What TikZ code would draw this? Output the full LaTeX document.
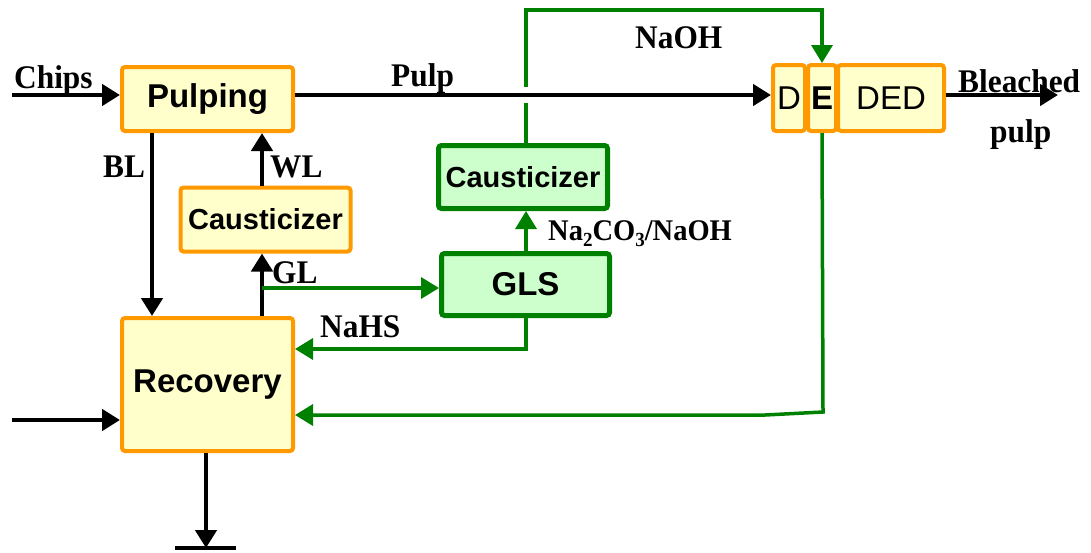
\documentclass[tikz,border=0pt]{standalone}
\usepackage{fontspec}
\setmainfont{Liberation Serif}
\newfontfamily\labf[FakeStretch=0.95]{Liberation Serif}
\newfontfamily\boxf{Liberation Sans}
\usetikzlibrary{arrows.meta}
\definecolor{orng}{HTML}{FF9900}
\definecolor{oyel}{HTML}{FFFFCC}
\definecolor{grn}{HTML}{008000}
\definecolor{gfill}{HTML}{CCFFCC}
\tikzset{
  obox/.style={draw=orng, fill=oyel, line width=4pt, rounded corners=3pt, inner sep=0pt,
    font=\boxf\bfseries\fontsize{33}{36}\selectfont},
  gbox/.style={draw=grn, fill=gfill, line width=5pt, rounded corners=3pt, inner sep=0pt,
    font=\boxf\bfseries\fontsize{33}{36}\selectfont},
  cfont/.style={font=\boxf\bfseries\fontsize{29}{32}\selectfont},
  blk/.style={draw=black, line width=4.5pt},
  grl/.style={draw=grn, line width=3.5pt},
  arr/.style={-{Triangle[length=18pt,width=21pt]}},
  lbl/.style={inner sep=0pt, font=\labf\bfseries\fontsize{33}{36}\selectfont},
}
\begin{document}
\begin{tikzpicture}[x=1pt,y=-1pt]
\useasboundingbox (0,0) rectangle (1091,552);

% boxes
\node[obox, minimum width=171pt, minimum height=64pt] (pulping) at (207.5,99) {Pulping};
\node[obox, minimum width=170pt, minimum height=64pt, cfont] (ocaus) at (265.5,219.5) {Causticizer};
\node[obox, minimum width=171pt, minimum height=133pt] (recovery) at (207.5,384.5) {Recovery};
\node[gbox, minimum width=169pt, minimum height=63pt, cfont] (gcaus) at (523,177) {Causticizer};
\node[gbox, minimum width=168pt, minimum height=62pt] (gls) at (525.5,284.5) {GLS};
\node[obox, minimum width=32pt, minimum height=66pt, font=\boxf\fontsize{33}{36}\selectfont] (d) at (789,98) {D};
\node[obox, minimum width=28pt, minimum height=66pt] (e) at (822,98) {E};
\node[obox, minimum width=106pt, minimum height=66pt, font=\boxf\fontsize{33}{36}\selectfont] (ded) at (891,98) {DED};

% coordinates
\coordinate (chipsin) at (12,95);
\coordinate (leftin) at (12,420);
\coordinate (outend) at (1058,95);
\coordinate (blx) at (152,0);
\coordinate (wlx) at (262,0);
\coordinate (glj) at (262,288);
\coordinate (gx) at (526,0);
\coordinate (ntop) at (526,10);
\coordinate (gapb) at (526,103);
\coordinate (gapt) at (526,87);
\coordinate (nahs) at (526,349);
\coordinate (k1) at (823,412);
\coordinate (k2) at (765,415);
\coordinate (botx) at (206,0);
\coordinate (botend) at (206,548);
\coordinate (barl) at (175,548);
\coordinate (barr) at (236,548);

% black flows
\draw[blk,arr] (chipsin) -- (chipsin -| pulping.west);
\draw[blk,arr] (pulping.east |- chipsin) -- (d.west |- chipsin);
\draw[blk,arr] (ded.east |- outend) -- (outend);
\draw[blk,arr] (pulping.south -| blx) -- (recovery.north -| blx);
\draw[blk,arr] (ocaus.north -| wlx) -- (pulping.south -| wlx);
\draw[blk,arr] (recovery.north -| wlx) -- (ocaus.south -| wlx);
\draw[blk,arr] (leftin) -- (leftin -| recovery.west);
\draw[blk,arr] (recovery.south -| botx) -- (botend);
\draw[blk] (barl) -- (barr);

% green flows
\draw[grl,arr] (glj) -- (glj -| gls.west);
\draw[grl,arr] (gls.north -| gx) -- (gcaus.south -| gx);
\draw[grl] (gcaus.north -| gx) -- (gapb);
\draw[grl,arr] (gapt) -- (ntop) -| (e.north);
\draw[grl,arr] (gls.south -| gx) -- (nahs) -- (nahs -| recovery.east);
\draw[grl,arr] (e.south) -- (k1) -- (k2) -- (k2 -| recovery.east);

% labels
\node[lbl, anchor=base west] (lchips) at (14,88) {Chips};
\node[lbl, anchor=base west] (lpulp) at (391,86) {Pulp};
\node[lbl, anchor=base west] (lbl) at (103,177) {BL};
\node[lbl, anchor=base west] (lwl) at (270,177) {WL};
\node[lbl, anchor=base west] (lgl) at (272,283) {GL};
\node[lbl, anchor=base west] (lnahs) at (320,337) {NaHS};
\node[lbl, anchor=base west] (lnaoh) at (635,48) {NaOH};
\node[lbl, anchor=base west, font=\labf\bfseries\fontsize{30}{32}\selectfont] (lna2) at (548,240)
  {Na\raisebox{-0.22em}{\fontsize{20}{20}\selectfont 2}CO\raisebox{-0.22em}{\fontsize{20}{20}\selectfont 3}/NaOH};
\node[lbl, anchor=base west] (lbleach) at (958,92) {Bleached};
\node[lbl, anchor=base west] (lpulp2) at (990,142) {pulp};
\end{tikzpicture}
\end{document}
